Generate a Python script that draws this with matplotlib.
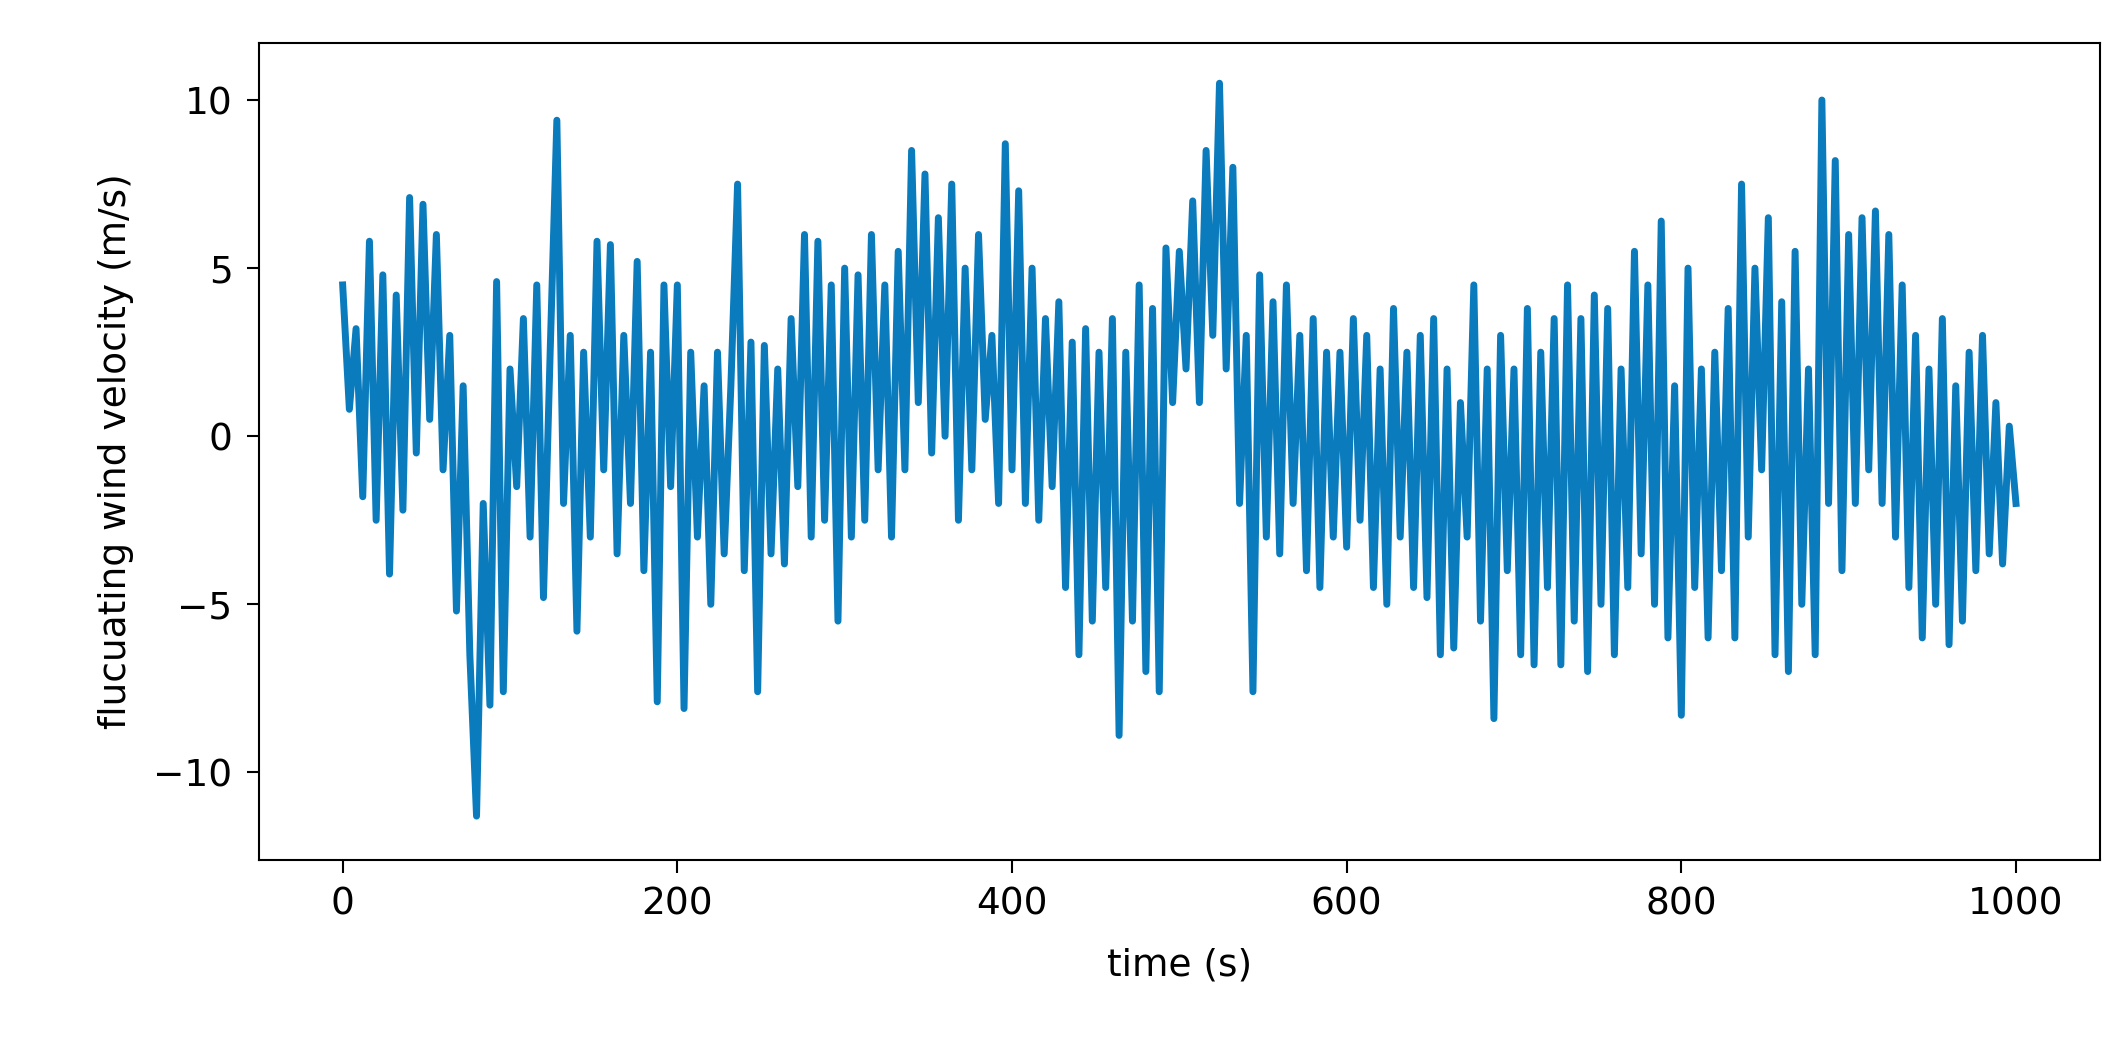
import numpy as np
import matplotlib.pyplot as plt

# velocity extremes, one sample every 4 s
DT = 4.0
velocity = [
    4.5, 0.8, 3.2, -1.8, 5.8, -2.5, 4.8, -4.1, 4.2, -2.2,
    7.1, -0.5, 6.9, 0.5, 6.0, -1.0, 3.0, -5.2, 1.5, -6.5,
    -11.3, -2.0, -8.0, 4.6, -7.6, 2.0, -1.5, 3.5, -3.0, 4.5,
    -4.8, 2.5, 9.4, -2.0, 3.0, -5.8, 2.5, -3.0, 5.8, -1.0,
    5.7, -3.5, 3.0, -2.0, 5.2, -4.0, 2.5, -7.9, 4.5, -1.5,
    4.5, -8.1, 2.5, -3.0, 1.5, -5.0, 2.5, -3.5, 1.5, 7.5,
    -4.0, 2.8, -7.6, 2.7, -3.5, 2.0, -3.8, 3.5, -1.5, 6.0,
    -3.0, 5.8, -2.5, 4.5, -5.5, 5.0, -3.0, 4.8, -2.5, 6.0,
    -1.0, 4.5, -3.0, 5.5, -1.0, 8.5, 1.0, 7.8, -0.5, 6.5,
    0.0, 7.5, -2.5, 5.0, -1.0, 6.0, 0.5, 3.0, -2.0, 8.7,
    -1.0, 7.3, -2.0, 5.0, -2.5, 3.5, -1.5, 4.0, -4.5, 2.8,
    -6.5, 3.2, -5.5, 2.5, -4.5, 3.5, -8.9, 2.5, -5.5, 4.5,
    -7.0, 3.8, -7.6, 5.6, 1.0, 5.5, 2.0, 7.0, 1.0, 8.5,
    3.0, 10.5, 2.0, 8.0, -2.0, 3.0, -7.6, 4.8, -3.0, 4.0,
    -3.5, 4.5, -2.0, 3.0, -4.0, 3.5, -4.5, 2.5, -3.0, 2.5,
    -3.3, 3.5, -2.5, 3.0, -4.5, 2.0, -5.0, 3.8, -3.0, 2.5,
    -4.5, 3.0, -4.8, 3.5, -6.5, 2.0, -6.3, 1.0, -3.0, 4.5,
    -5.5, 2.0, -8.4, 3.0, -4.0, 2.0, -6.5, 3.8, -6.8, 2.5,
    -4.5, 3.5, -6.8, 4.5, -5.5, 3.5, -7.0, 4.2, -5.0, 3.8,
    -6.5, 2.0, -4.5, 5.5, -3.5, 4.5, -5.0, 6.4, -6.0, 1.5,
    -8.3, 5.0, -4.5, 2.0, -6.0, 2.5, -4.0, 3.8, -6.0, 7.5,
    -3.0, 5.0, -1.0, 6.5, -6.5, 4.0, -7.0, 5.5, -5.0, 2.0,
    -6.5, 10.0, -2.0, 8.2, -4.0, 6.0, -2.0, 6.5, -1.0, 6.7,
    -2.0, 6.0, -3.0, 4.5, -4.5, 3.0, -6.0, 2.0, -5.0, 3.5,
    -6.2, 1.5, -5.5, 2.5, -4.0, 3.0, -3.5, 1.0, -3.8, 0.3,
    -2.0,
]


def main():
    time = np.arange(len(velocity)) * DT

    fig = plt.figure(figsize=(21.23, 10.46), dpi=100)
    ax = fig.add_axes([0.122, 0.178, 0.867, 0.781])
    ax.plot(time, velocity, color="#0a7bbd", linewidth=5)

    ax.set_xlim(-50, 1050)
    ax.set_ylim(-12.6, 11.7)
    ax.set_xticks([0, 200, 400, 600, 800, 1000])
    ax.set_yticks([-10, -5, 0, 5, 10])
    ax.tick_params(labelsize=27, length=9, width=1.5, pad=10)
    for s in ax.spines.values():
        s.set_linewidth(1.5)
    ax.set_xlabel("time (s)", fontsize=27, labelpad=18)
    ax.set_ylabel("flucuating wind velocity (m/s)", fontsize=27, labelpad=14)

    fig.savefig("out.png", dpi=100)


if __name__ == "__main__":
    main()
